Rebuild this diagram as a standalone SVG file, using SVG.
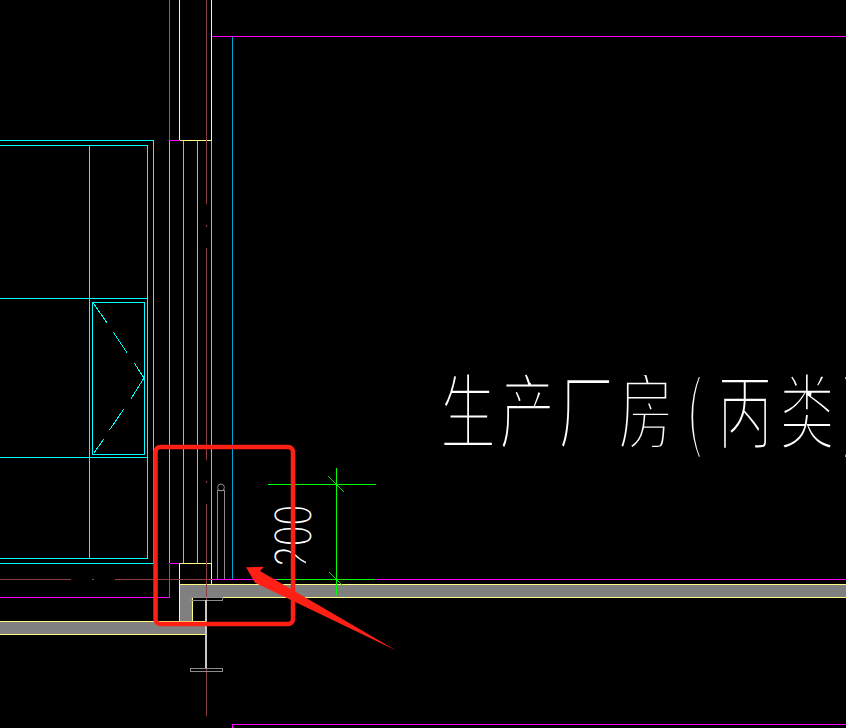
<svg xmlns="http://www.w3.org/2000/svg" width="846" height="728" viewBox="0 0 846 728">
<style>
line,polyline,path.l,rect.l{fill:none;stroke-width:1;shape-rendering:crispEdges}
.c{stroke:#00ffff}.b{stroke:#00a0d8}.m{stroke:#ff00ff}.y{stroke:#ffff80}.r{stroke:#8a4040}.g{stroke:#8c8c8c}.w{stroke:#c8c8c8}.n{stroke:#00ff00}
.cd{stroke:#00ffff;stroke-width:1;shape-rendering:auto}
.t{fill:#fff;stroke:#000;paint-order:fill;stroke-width:2.6;vector-effect:non-scaling-stroke;text-rendering:geometricPrecision}
</style>
<defs>
<clipPath id="num"><polygon points="265,500 320,500 320,546 306,546 306,572 265,572"/></clipPath>
</defs>
<rect width="846" height="728" fill="#000"/>
<g id="slabs" fill="#808080">
<rect x="179.5" y="584.5" width="666.5" height="13"/>
<rect x="179.5" y="597" width="13" height="25"/>
<rect x="0" y="621.5" width="205" height="13"/>
</g>
<g id="window">
<polyline class="c" points="0,140.5 153.5,140.5 153.5,447"/>
<line class="g" x1="153.5" y1="447" x2="153.5" y2="563.5" style="stroke:#a8a8a8"/>
<line class="c" x1="0" y1="563.5" x2="153" y2="563.5"/>
<polyline class="c" points="0,145.5 147.5,145.5 147.5,558.5 0,558.5"/>
<line class="c" x1="89.5" y1="145" x2="89.5" y2="558"/>
<line class="c" x1="0" y1="298.5" x2="147" y2="298.5"/>
<line class="c" x1="0" y1="457.5" x2="147" y2="457.5"/>
<rect class="l c" x="92.5" y="302.5" width="52" height="152"/>
<g class="cd">
<line x1="93.5" y1="303.5" x2="107.5" y2="323.5"/>
<line x1="113.5" y1="332.5" x2="127.5" y2="353.5"/>
<line x1="134.5" y1="363.5" x2="144" y2="378"/>
<line x1="144" y1="378" x2="130.5" y2="399.5"/>
<line x1="123.5" y1="409.5" x2="109.5" y2="430"/>
<line x1="103.5" y1="439.5" x2="93.5" y2="453.5"/>
</g>
</g>
<g id="connectors">
<line class="m" x1="169.5" y1="0" x2="169.5" y2="140.5"/>
<line class="y" x1="179.5" y1="0" x2="179.5" y2="140"/>
<line class="y" x1="211.5" y1="0" x2="211.5" y2="140.5"/>
<line class="m" x1="169.5" y1="140.5" x2="179.5" y2="140.5"/>
<line class="y" x1="179.5" y1="140.5" x2="211.5" y2="140.5"/>
<line class="m" x1="212" y1="36.5" x2="846" y2="36.5"/>
<line class="b" x1="232.5" y1="37" x2="232.5" y2="579"/>
<line class="c" x1="169.5" y1="141" x2="169.5" y2="563"/>
<line class="c" x1="183.5" y1="141" x2="183.5" y2="563"/>
<line class="c" x1="197.5" y1="141" x2="197.5" y2="563"/>
<line class="c" x1="211.5" y1="141" x2="211.5" y2="563"/>
<polyline class="m" points="169.5,563.5 169.5,597.5 0,597.5"/>
<line class="m" x1="169.5" y1="563.5" x2="179" y2="563.5"/>
<polyline class="y" points="179.5,621 179.5,563.5 211.5,563.5 211.5,584"/>
<line class="y" x1="179.5" y1="584.5" x2="846" y2="584.5"/>
<line class="y" x1="192.5" y1="597.5" x2="846" y2="597.5"/>
<line class="y" x1="192.5" y1="598" x2="192.5" y2="621"/>
<line class="y" x1="0" y1="621.5" x2="205" y2="621.5"/>
<line class="y" x1="0" y1="634.5" x2="205" y2="634.5"/>
<line class="m" x1="212" y1="579.5" x2="846" y2="579.5"/>
<line class="r" x1="206.5" y1="0" x2="206.5" y2="204"/>
<line class="r" x1="206.5" y1="225" x2="206.5" y2="227"/>
<line class="r" x1="206.5" y1="248" x2="206.5" y2="460"/>
<line class="r" x1="206.5" y1="481" x2="206.5" y2="483"/>
<line class="r" x1="206.5" y1="504" x2="206.5" y2="716"/>
<line class="r" x1="0" y1="579.5" x2="71" y2="579.5"/>
<line class="r" x1="92" y1="579.5" x2="94" y2="579.5"/>
<line class="r" x1="115" y1="579.5" x2="212" y2="579.5"/>
<polyline class="m" points="232.5,728 232.5,724.5 846,724.5"/>
</g>
<g id="steel-column">
<rect class="l g" x="190.5" y="597.5" width="32" height="3"/>
<rect class="l g" x="190.5" y="668.5" width="32" height="3"/>
<rect x="205" y="600" width="2" height="68" fill="#c8c8c8"/>
</g>
<g id="pipe">
<polyline class="g" points="217.5,579 217.5,490 224.5,490 224.5,579"/>
<circle cx="221" cy="487.5" r="3.4" fill="none" stroke="#8c8c8c"/>
</g>
<g id="dimension">
<line class="n" x1="268" y1="484.5" x2="376" y2="484.5"/>
<line class="n" x1="277" y1="579.5" x2="375" y2="579.5"/>
<line class="n" x1="336.5" y1="468" x2="336.5" y2="595"/>
<line x1="328" y1="476" x2="344" y2="492" stroke="#00e000"/>
<line x1="329" y1="572" x2="344" y2="587" stroke="#00e000"/>
<g clip-path="url(#num)"><text class="t" transform="translate(312,567) rotate(-90) scale(.69,1.03)" font-family="'Liberation Sans',sans-serif" font-size="54" style="stroke-width:2.2">200</text></g>
</g>
<g id="label">
<text class="t" transform="translate(0,443) scale(1,1.5)" font-family="'Noto Sans CJK SC',sans-serif" font-size="56" x="440 499 558 618 685 717 779 841" y="0">生产厂房(丙类)</text>
</g>
<g id="annotation">
<rect x="155.5" y="447" width="137.5" height="177" rx="5" fill="none" stroke="#ff2015" stroke-width="4.5"/>
<polygon points="246,567.3 264,566.7 260,571 396.7,650.7 255,582.7" fill="#ff2015"/>
</g>
</svg>
